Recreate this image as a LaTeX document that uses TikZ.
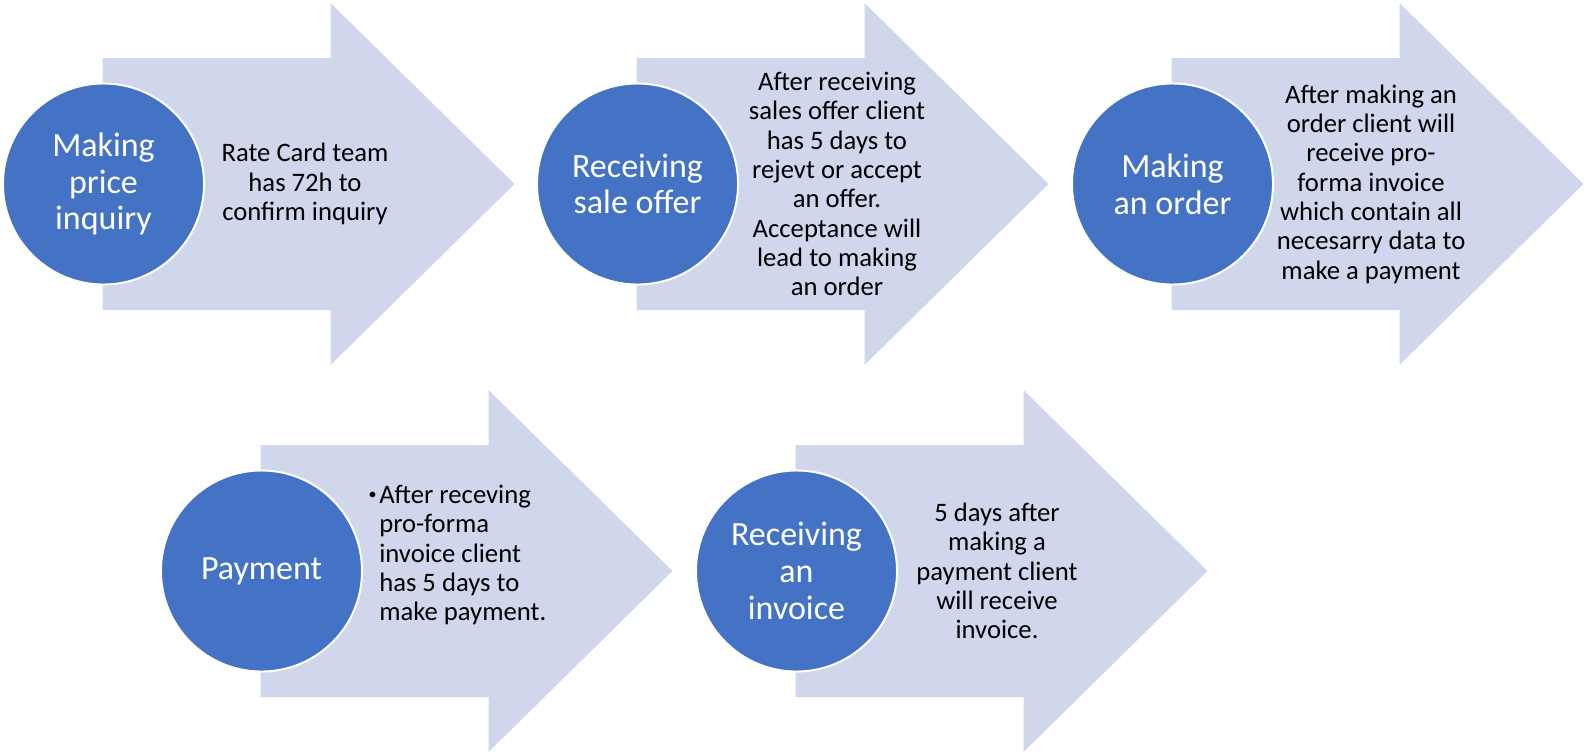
\documentclass[tikz,border=0pt]{standalone}
\usepackage{fontspec}
\setmainfont{Carlito}
\usepackage{tikz}
\tikzset{
  circ text/.style={
    text=white, align=center, inner sep=0pt,
    font=\fontsize{25.5}{27.5}\selectfont,
  },
  desc text/.style={
    text=black, align=center, inner sep=0pt,
    font=\fontsize{20}{22}\selectfont,
  },
}

\begin{document}
\begin{tikzpicture}[x=0.75pt, y=-0.75pt]
% Defining colors
\definecolor{officeblue}{RGB}{68, 114, 196}
\definecolor{lavendermist}{RGB}{208, 215, 236}

% Defining colors associated with the arrows and circles
\colorlet{colarrow}{lavendermist}
\colorlet{colcirc}{officeblue}

\useasboundingbox (0, 0) rectangle (1585, 754);

% =:=:=:=:=:=:=:=:=:=:=:=:=:=:=:=:=:=:=
% Step 1: price inquiry
% =:=:=:=:=:=:=:=:=:=:=:=:=:=:=:=:=:=:=
\fill[colarrow]
    (102.5, 184) coordinate (a1)
    ++(0, -126) -- ++(228, 0) -- ++(0, -55) -- ++(184, 181)
    -- ++(-184, 181) -- ++(0, -55) -- ++(-228, 0) -- cycle;

\filldraw[fill=colcirc, draw=white, line width=1.5pt]
    (103.5, 184) circle (75.4pt)
    node[circ text] (inquiry) {Making\\price\\inquiry};

\node[desc text] (inquiry desc) at (305, 184)
    {Rate Card team\\has 72h to\\confirm inquiry};

% =:=:=:=:=:=:=:=:=:=:=:=:=:=:=:=:=:=:=
% Step 2: sale offer
% =:=:=:=:=:=:=:=:=:=:=:=:=:=:=:=:=:=:=
\fill[colarrow]
    (636.5, 184) coordinate (a2)
    ++(0, -126) -- ++(228, 0) -- ++(0, -55) -- ++(184, 181)
    -- ++(-184, 181) -- ++(0, -55) -- ++(-228, 0) -- cycle;

\filldraw[fill=colcirc, draw=white, line width=1.5pt]
    (637.5, 184) circle (75.4pt)
    node[circ text] (offer) {Receiving\\sale offer};

\node[desc text] (offer desc) at (837, 184)
    {After receiving\\sales offer client\\has 5 days to\\rejevt or accept\\an offer.\\
     Acceptance will\\lead to making\\an order};

% =:=:=:=:=:=:=:=:=:=:=:=:=:=:=:=:=:=:=
% Step 3: order
% =:=:=:=:=:=:=:=:=:=:=:=:=:=:=:=:=:=:=
\fill[colarrow]
    (1171.5, 184) coordinate (a3)
    ++(0, -126) -- ++(228, 0) -- ++(0, -55) -- ++(184, 181)
    -- ++(-184, 181) -- ++(0, -55) -- ++(-228, 0) -- cycle;

\filldraw[fill=colcirc, draw=white, line width=1.5pt]
    (1172.5, 184) circle (75.4pt)
    node[circ text] (order) {Making\\an order};

\node[desc text] (order desc) at (1371, 184)
    {After making an\\order client will\\receive pro-\\forma invoice\\
     which contain all\\necesarry data to\\make a payment};

% =:=:=:=:=:=:=:=:=:=:=:=:=:=:=:=:=:=:=
% Step 4: payment
% =:=:=:=:=:=:=:=:=:=:=:=:=:=:=:=:=:=:=
\fill[colarrow]
    (260.5, 571) coordinate (a4)
    ++(0, -126) -- ++(228, 0) -- ++(0, -55) -- ++(184, 181)
    -- ++(-184, 181) -- ++(0, -55) -- ++(-228, 0) -- cycle;

\filldraw[fill=colcirc, draw=white, line width=1.5pt]
    (261.5, 571) circle (75.4pt)
    node[circ text] (payment) {Payment};

\node[desc text, align=left, anchor=west] (payment desc) at (379, 555)
    {\llap{\fontsize{12}{12}\selectfont\raisebox{3pt}{•}\hspace{2pt}}After receving\\
     pro-forma\\invoice client\\has 5 days to\\make payment.};

% =:=:=:=:=:=:=:=:=:=:=:=:=:=:=:=:=:=:=
% Step 5: invoice
% =:=:=:=:=:=:=:=:=:=:=:=:=:=:=:=:=:=:=
\fill[colarrow]
    (795.5, 571) coordinate (a5)
    ++(0, -126) -- ++(228, 0) -- ++(0, -55) -- ++(184, 181)
    -- ++(-184, 181) -- ++(0, -55) -- ++(-228, 0) -- cycle;

\filldraw[fill=colcirc, draw=white, line width=1.5pt]
    (796.5, 571) circle (75.4pt)
    node[circ text] (invoice) {Receiving\\an\\invoice};

\node[desc text] (invoice desc) at (997, 571)
    {5 days after\\making a\\payment client\\will receive\\invoice.};

\end{tikzpicture}
\end{document}
